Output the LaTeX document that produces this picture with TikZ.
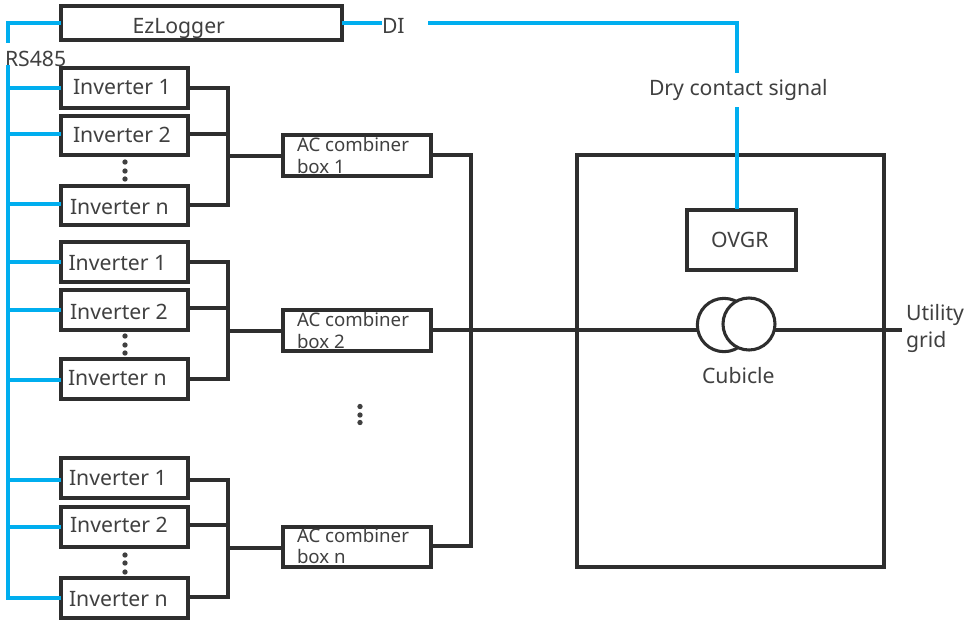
\documentclass[tikz,border=0pt]{standalone}
\usepackage{fontspec}
\setmainfont{Noto Sans}
\definecolor{wire}{HTML}{2E2E2E}
\definecolor{sig}{HTML}{00AEEF}
\definecolor{txt}{HTML}{404040}
\tikzset{
  px/.style={x=0.75pt,y=-0.75pt},
  wireline/.style={draw=wire,line width=2.3pt,line join=miter},
  sigline/.style={draw=sig,line width=2.3pt,line join=miter},
  boxn/.style={draw=wire,line width=2.3pt,fill=white,inner sep=0pt,outer sep=0pt},
  lab/.style={text=txt,font=\fontsize{15.9pt}{18pt}\selectfont,anchor=base west,inner sep=0pt,outer sep=0pt},
  smalllab/.style={text=txt,font=\fontsize{14pt}{16pt}\selectfont,anchor=base west,inner sep=0pt,outer sep=0pt},
  vdot/.style={circle,fill=txt,draw=none,minimum size=4pt,inner sep=0pt},
}
\newcommand{\bx}[5]{%
  \pgfmathsetmacro{\bw}{(#4-#2)*0.75}\pgfmathsetmacro{\bh}{(#5-#3)*0.75}%
  \pgfmathsetmacro{\bcx}{(#2+#4)/2}\pgfmathsetmacro{\bcy}{(#3+#5)/2}%
  \node[boxn,minimum width=\bw pt,minimum height=\bh pt] (#1) at (\bcx,\bcy) {};}
\newcommand{\vd}[5]{%
  \node[vdot] (#1a) at (#2,#3) {};\node[vdot] (#1b) at (#2,#4) {};\node[vdot] (#1c) at (#2,#5) {};}
\begin{document}
\begin{tikzpicture}[px]
\useasboundingbox[fill=white] (0,0) rectangle (975,619);
% signal lines under boxes
\coordinate (rsTop) at (8,43);
\coordinate (rsMid) at (8,65);
\coordinate (rsBot) at (8,598);
\coordinate (cornerDI) at (737,23);
\coordinate (diStart) at (428,23);
% boxes
\bx{ez}{61}{6}{342}{40}
\bx{a1}{61}{68}{188}{108}
\bx{a2}{61}{116}{188}{155}
\bx{an}{61}{186}{188}{225}
\bx{b1}{61}{242}{188}{282}
\bx{b2}{61}{290}{188}{330}
\bx{bn}{61}{359}{188}{399}
\bx{c1}{61}{458}{188}{498}
\bx{c2}{61}{507}{188}{547}
\bx{cn}{61}{578}{188}{618}
\bx{acA}{283}{135}{431}{176}
\bx{acB}{283}{310}{431}{351}
\bx{acN}{283}{527}{431}{567}
\bx{cub}{577}{155}{884}{567}
\bx{ovgr}{687}{210}{796}{270}
% labels
\node[lab] (tez) at (132.5,33) {EzLogger};
\node[lab] (tdi) at (382,33) {DI};
\node[lab] (trs) at (5,66) {RS485};
\node[lab] (ta1) at (73,94) {Inverter 1};
\node[lab] (ta2) at (73,142) {Inverter 2};
\node[lab] (tan) at (70,214) {Inverter n};
\node[lab] (tb1) at (68.5,270) {Inverter 1};
\node[lab] (tb2) at (70,319) {Inverter 2};
\node[lab] (tbn) at (68,385) {Inverter n};
\node[lab] (tc1) at (69,485) {Inverter 1};
\node[lab] (tc2) at (70,532) {Inverter 2};
\node[lab] (tcn) at (69,606) {Inverter n};
\node[smalllab] (tacA1) at (297,151) {AC combiner};
\node[smalllab] (tacA2) at (297,173) {box 1};
\node[smalllab] (tacB1) at (297,326) {AC combiner};
\node[smalllab] (tacB2) at (297,348) {box 2};
\node[smalllab] (tacN1) at (297,542) {AC combiner};
\node[smalllab] (tacN2) at (297,563) {box n};
\node[lab] (tdry) at (649,95) {Dry contact signal};
\node[lab] (tovgr) at (711,247) {OVGR};
\node[lab] (tcub) at (702,383) {Cubicle};
\node[lab] (tut) at (906,320) {Utility};
\node[lab] (tgr) at (906,347) {grid};
% vertical ellipses
\vd{da}{125}{162}{171}{179}
\vd{db}{125}{336}{345}{353}
\vd{dc}{125}{555}{563}{572}
\vd{dm}{360}{406.5}{415}{422.5}
% signal wiring
\draw[sigline] (ez.west) -- (8,23) -- (rsTop);
\draw[sigline] (rsMid) -- (rsBot) -- (cn.west |- rsBot);
\draw[sigline] (ez.east) -- (tdi.west |- ez.east);
\draw[sigline] (diStart) -- (cornerDI) -- (737,73);
\draw[sigline] (737,107) -- (737,209);
\foreach \n/\yy in {a1/88,a2/134,an/204,b1/262,b2/310,bn/380,c1/480,c2/527}
  \draw[sigline] (8,\yy) -- (\n.west |- 0,\yy);
% power wiring
\coordinate (busA) at (228,156);
\coordinate (busB) at (228,331);
\coordinate (busC) at (228,548);
\draw[wireline] (a1.east |- 0,88) -- (228,88) -- (228,205) -- (an.east |- 0,205);
\draw[wireline] (a2.east |- 0,134) -- (228,134);
\draw[wireline] (busA) -- (acA.west |- busA);
\draw[wireline] (b1.east |- 0,262) -- (228,262) -- (228,379) -- (bn.east |- 0,379);
\draw[wireline] (b2.east |- 0,308) -- (228,308);
\draw[wireline] (busB) -- (acB.west |- busB);
\draw[wireline] (c1.east |- 0,480) -- (228,480) -- (228,597) -- (cn.east |- 0,597);
\draw[wireline] (c2.east |- 0,525) -- (228,525);
\draw[wireline] (busC) -- (acN.west |- busC);
\draw[wireline] (acA.east |- 0,155) -- (471,155) -- (471,546) -- (acN.east |- 0,546);
% transformer
\node[circle,draw=wire,line width=2.3pt,fill=white,minimum size=40pt,inner sep=0pt,outer sep=0pt] (tl) at (724,325) {};
\node[circle,draw=wire,line width=2.3pt,fill=white,minimum size=39pt,inner sep=0pt,outer sep=0pt] (tr) at (749,324) {};
\coordinate (gridEnd) at (902,330);
\draw[wireline] (acB.east |- 0,330) -- (698,330);
\draw[wireline] (775,330) -- (gridEnd);
\end{tikzpicture}
\end{document}
